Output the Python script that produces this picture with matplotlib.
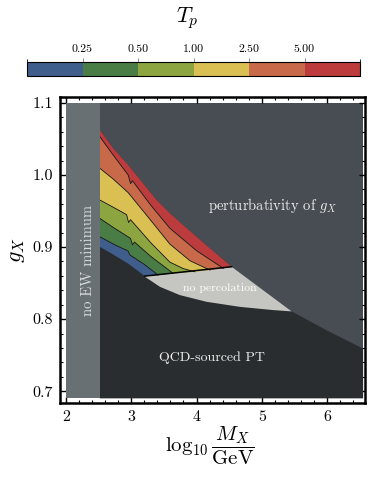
import matplotlib
matplotlib.use("Agg")
import matplotlib.pyplot as plt
from matplotlib.colors import ListedColormap, BoundaryNorm
from matplotlib.patches import Polygon
from matplotlib.ticker import MultipleLocator
import matplotlib.colorbar as mcolorbar

plt.rcParams["mathtext.fontset"] = "cm"
plt.rcParams["font.family"] = ["cmr10", "DejaVu Serif"]
plt.rcParams["axes.formatter.use_mathtext"] = True

# ---------------------------------------------------------------------
# colour bar (T_p bins)
tp_edges = [0.0, 0.25, 0.50, 1.00, 2.50, 5.00, 10.0]
tp_ticks = [0.25, 0.50, 1.00, 2.50, 5.00]
tp_colors = ["#3f5e8b", "#4a7c45", "#8ca540", "#dabf53", "#c86a49", "#bc3c3d"]

# region limits
ew_min_x = 2.52
x_data = (2.0, 6.55)
y_data = (0.69, 1.10)

# band boundaries (top -> bottom), each ends on the no-percolation line
red_top_x = [2.52, 2.73, 2.954, 3.389, 3.593, 4.103, 4.537]
red_top_y = [1.0625, 1.0365, 1.0139, 0.9653, 0.9468, 0.9062, 0.8727]
red_orange_x = [2.52, 2.73, 2.954, 2.99, 3.02, 3.3, 3.593, 4.0, 4.41]
red_orange_y = [1.0532, 1.027, 1.0, 0.988, 0.992, 0.958, 0.926, 0.895, 0.8704]
orange_yellow_x = [2.52, 2.73, 2.954, 3.3, 3.593, 3.9, 4.205]
orange_yellow_y = [1.0093, 0.994, 0.9755, 0.937, 0.904, 0.881, 0.868]
yellow_lgreen_x = [2.52, 2.73, 2.93, 2.96, 2.99, 3.3, 3.593, 3.8, 3.975]
yellow_lgreen_y = [0.9653, 0.955, 0.945, 0.934, 0.938, 0.906, 0.879, 0.870, 0.8657]
lgreen_green_x = [2.52, 2.73, 2.99, 3.02, 3.05, 3.3, 3.643]
lgreen_green_y = [0.9398, 0.927, 0.912, 0.903, 0.907, 0.887, 0.8634]
green_blue_x = [2.52, 2.73, 2.954, 2.98, 3.2, 3.413]
green_blue_y = [0.9143, 0.904, 0.8944, 0.889, 0.876, 0.8611]
blue_bottom_x = [2.52, 2.70, 2.954, 3.21]
blue_bottom_y = [0.9004, 0.891, 0.877, 0.8597]

# perturbativity limit beyond the coloured region
pert_x = [4.537, 5.456, 6.0, 6.55]
pert_y = [0.8727, 0.8107, 0.784, 0.759]

# lower edge of the no-percolation region
noperc_x = [3.21, 3.44, 3.746, 4.155, 4.665, 5.175, 5.456]
noperc_y = [0.8588, 0.8448, 0.8333, 0.824, 0.817, 0.8125, 0.8107]

c_ew = "#697074"
c_pert = "#474d53"
c_qcd = "#2a2d30"
c_noperc = "#c5c6c1"

# ---------------------------------------------------------------------
fig = plt.figure(figsize=(3.74, 4.8), dpi=100)
ax = fig.add_axes([0.160, 0.160, 0.816, 0.638])

# background: perturbativity region
ax.add_patch(Polygon([(x_data[0], y_data[0]), (x_data[1], y_data[0]),
                      (x_data[1], y_data[1]), (x_data[0], y_data[1])],
                     closed=True, fc=c_pert, ec="none", zorder=1))

# QCD-sourced region below the perturbativity curve
qcd_pts = [(ew_min_x, y_data[0])]
qcd_pts += list(zip(red_top_x, red_top_y))
qcd_pts += list(zip(pert_x[1:], pert_y[1:]))
qcd_pts += [(x_data[1], y_data[0])]
ax.add_patch(Polygon(qcd_pts, closed=True, fc=c_qcd, ec="none", zorder=2))

# no percolation
np_pts = [(blue_bottom_x[-1], blue_bottom_y[-1]), (red_top_x[-1], red_top_y[-1]),
          (pert_x[1], pert_y[1])]
np_pts += list(zip(noperc_x[::-1], noperc_y[::-1]))
ax.add_patch(Polygon(np_pts, closed=True, fc=c_noperc, ec="none", zorder=3))

# T_p bands
bounds = [(red_top_x, red_top_y), (red_orange_x, red_orange_y),
          (orange_yellow_x, orange_yellow_y), (yellow_lgreen_x, yellow_lgreen_y),
          (lgreen_green_x, lgreen_green_y), (green_blue_x, green_blue_y),
          (blue_bottom_x, blue_bottom_y)]
band_cols = tp_colors[::-1]
for i in range(6):
    ux, uy = bounds[i]
    lx, ly = bounds[i + 1]
    pts = list(zip(ux, uy)) + list(zip(lx[::-1], ly[::-1]))
    ax.add_patch(Polygon(pts, closed=True, fc=band_cols[i], ec="none", zorder=4))
for bx, by in bounds[1:-1]:
    ax.plot(bx, by, color="#1a1a1a", lw=0.6, zorder=5)
ax.plot([blue_bottom_x[-1], red_top_x[-1]], [blue_bottom_y[-1], red_top_y[-1]],
        color="black", lw=1.1, zorder=5)

# no EW minimum strip
ax.add_patch(Polygon([(x_data[0], y_data[0]), (ew_min_x, y_data[0]),
                      (ew_min_x, y_data[1]), (x_data[0], y_data[1])],
                     closed=True, fc=c_ew, ec="none", zorder=6))

# labels inside
ax.text(5.17, 0.958, r"perturbativity of $g_X$", color="#eeeeee", fontsize=10.5,
        ha="center", va="center", zorder=7)
ax.text(4.36, 0.8435, "no percolation", color="white", fontsize=8.5,
        ha="center", va="center", zorder=7)
ax.text(4.24, 0.747, "QCD-sourced PT", color="#eeeeee", fontsize=10,
        ha="center", va="center", zorder=7)
ax.text(2.34, 0.882, "no EW minimum", color="#d8dadb", fontsize=10.5, rotation=90,
        ha="center", va="center", zorder=7)

ax.set_xlim(1.908, 6.579)
ax.set_ylim(0.6833, 1.1083)
ax.set_xticks([2, 3, 4, 5, 6])
ax.set_xticklabels(["2", "3", "4", "5", "6"])
ax.set_yticks([0.7, 0.8, 0.9, 1.0, 1.1])
ax.set_yticklabels(["0.7", "0.8", "0.9", "1.0", "1.1"])
ax.xaxis.set_minor_locator(MultipleLocator(0.2))
ax.yaxis.set_minor_locator(MultipleLocator(0.02))
ax.tick_params(which="both", direction="in", top=True, right=True, labelsize=11.5,
               color="black")
ax.tick_params(which="major", length=4, width=1.0, pad=5)
ax.tick_params(which="minor", length=2.2, width=0.8)
for s in ax.spines.values():
    s.set_linewidth(1.8)

ax.set_ylabel(r"$g_X$", fontsize=16, labelpad=4)
fig.text(210 / 374, 1 - 446 / 480, r"$\log_{10}\dfrac{M_X}{\mathrm{GeV}}$",
         fontsize=15, ha="center", va="center")

# colour bar
cax = fig.add_axes([27 / 374, 1 - 76 / 480, 333 / 374, 14 / 480])
cmap = ListedColormap(tp_colors)
norm = BoundaryNorm(tp_edges, cmap.N)
cb = mcolorbar.ColorbarBase(cax, cmap=cmap, norm=norm, boundaries=tp_edges,
                            spacing="uniform", orientation="horizontal",
                            ticks=tp_ticks, ticklocation="top")
cb.ax.set_xticklabels(["%.2f" % t for t in tp_ticks])
cb.ax.tick_params(labelsize=8.5, length=3, width=0.6, color="#777777", pad=3)
cb.outline.set_linewidth(0.8)
fig.text(0.5, 1 - 18 / 480, r"$T_p$", fontsize=16, ha="center", va="center")

fig.savefig("out.png", dpi=100)
